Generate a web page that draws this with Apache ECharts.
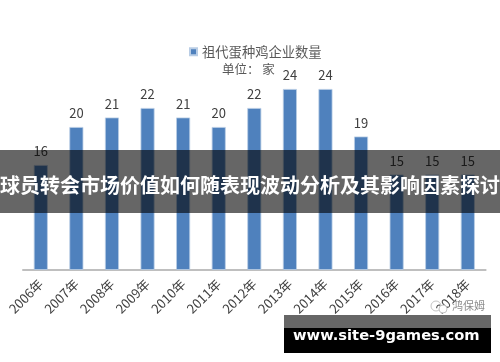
<!DOCTYPE html>
<html><head><meta charset="utf-8">
<style>html,body{margin:0;padding:0;background:#fff}#c{width:500px;height:362px}</style>
<script src="https://cdn.jsdelivr.net/npm/echarts@6/dist/echarts.min.js"></script>
</head><body><div id="c"></div>
<script>
const categories = ['2006年','2007年','2008年','2009年','2010年','2011年','2012年','2013年','2014年','2015年','2016年','2017年','2018年'];
const values = [16,20,21,22,21,20,22,24,24,19,15,15,15];
const seriesName = '祖代蛋种鸡企业数量';
const unitText = '单位： 家';
const headline = '球员转会市场价值如何随表现波动分析及其影响因素探讨';
const siteText = 'www.site-9games.com';
const markText = '鸿保姆';
const FONT = '"Noto Sans CJK SC","Noto Sans",sans-serif';
const chart = echarts.init(document.getElementById('c'), null, {renderer:'canvas'});
chart.setOption({
  animation:false,
  backgroundColor:'#fff',
  legend:{show:true,top:40,left:184,itemWidth:7,itemHeight:7,itemGap:3,icon:'rect',
    textStyle:{fontFamily:FONT,fontSize:13.3,color:'#595959'},data:[seriesName]},
  grid:{left:23,width:462.6,top:79.5,height:190,containLabel:false},
  xAxis:{type:'category',data:categories,
    axisLine:{lineStyle:{color:'#bfbfbf',width:2}},axisTick:{show:false},
    axisLabel:{rotate:45,fontFamily:FONT,fontSize:13,color:'#404040',margin:12,interval:0}},
  yAxis:{type:'value',min:5,max:25,show:false,splitLine:{show:false}},
  series:[{name:seriesName,type:'bar',data:values,barWidth:14,
    itemStyle:{color:'#4f81bd',borderColor:'#b9cde5',borderWidth:0.8},
    label:{show:true,position:'top',distance:7,fontFamily:FONT,fontSize:13,color:'#404040'}}],
  graphic:[
    {type:'text',z:50,left:222,top:63,style:{text:unitText,font:'12.5px '+FONT,fill:'#595959'}},
    {type:'rect',z:100,shape:{x:0,y:150,width:500,height:63},style:{fill:'rgba(0,0,0,0.6)'}},
    {type:'text',z:101,left:'center',top:175,style:{text:headline,font:'bold 20px '+FONT,fill:'#fff'}},
    {type:'text',z:60,left:452,top:300,style:{text:markText,font:'11px '+FONT,fill:'#8c8c8c'}},
    {type:'circle',z:60,shape:{cx:436,cy:306,r:5},style:{fill:'none',stroke:'#c4c4c4',lineWidth:1}},
    {type:'circle',z:60,shape:{cx:443,cy:309,r:4},style:{fill:'#fff',stroke:'#c4c4c4',lineWidth:1}},
    {type:'rect',z:100,shape:{x:284,y:315,width:207,height:13},style:{fill:'#666'}},
    {type:'rect',z:100,shape:{x:284,y:328,width:207,height:25},style:{fill:'#000'}},
    {type:'text',z:101,left:293,top:329,style:{text:siteText,font:'bold 14.7px "DejaVu Sans",sans-serif',fill:'#fff'}}
  ]
});
</script></body></html>
